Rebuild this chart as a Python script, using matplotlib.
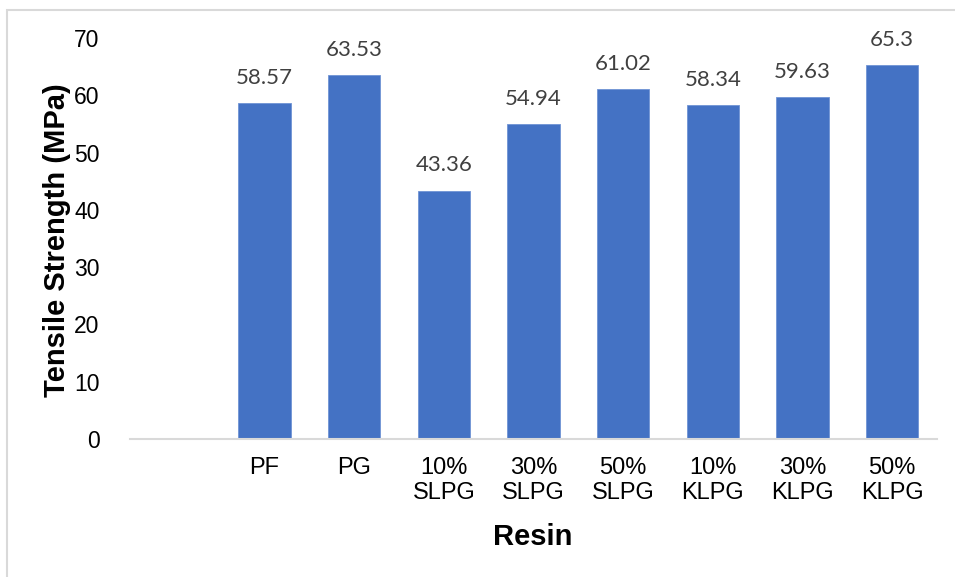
import numpy as np
import matplotlib.pyplot as plt
from matplotlib.patches import Rectangle

# resin types (first slot on the category axis is left blank)
resins = ["", "PF", "PG", "10%\nSLPG", "30%\nSLPG", "50%\nSLPG",
          "10%\nKLPG", "30%\nKLPG", "50%\nKLPG"]
strength = [np.nan, 58.57, 63.53, 43.36, 54.94, 61.02, 58.34, 59.63, 65.3]
strength_labels = ["", "58.57", "63.53", "43.36", "54.94", "61.02",
                   "58.34", "59.63", "65.3"]
yticks = [0, 10, 20, 30, 40, 50, 60, 70]

fig = plt.figure(figsize=(9.55, 5.77), dpi=100)
ax = fig.add_axes([130 / 955, 1 - 439 / 577, 807 / 955, 401 / 577])

x = np.arange(len(resins))
ax.bar(x, strength, width=0.58, color="#4472C4", edgecolor="#6f93d4",
       linewidth=0.6, zorder=2)

for xi, v, lab in zip(x, strength, strength_labels):
    if not lab:
        continue
    ax.annotate(lab, (xi, v), xytext=(0, 11), textcoords="offset points",
                ha="center", va="bottom", fontsize=16, color="#404040",
                family="Lato")

ax.set_xlim(-0.5, len(resins) - 0.5)
ax.set_ylim(0, 70)
ax.set_yticks(yticks)
ax.set_xticks(x)
ax.set_xticklabels(resins, fontsize=17, family="Liberation Sans",
                   linespacing=1.2)
ax.set_yticklabels([str(t) for t in yticks], fontsize=16.5,
                   family="Liberation Sans")
ax.tick_params(axis="both", length=0)
ax.tick_params(axis="y", pad=22)
ax.tick_params(axis="x", pad=13)

for side in ["top", "right", "left"]:
    ax.spines[side].set_visible(False)
ax.spines["bottom"].set_color("#d9d9d9")
ax.spines["bottom"].set_linewidth(1.5)

fig.text(57 / 955, 1 - 240 / 577, "Tensile Strength (MPa)", rotation=90,
         ha="center", va="center", fontsize=21, fontweight="bold",
         family="Liberation Sans")
fig.text(533 / 955, 1 - 537 / 577, "Resin", ha="center", va="center",
         fontsize=21, fontweight="bold", family="Liberation Sans")

# chart border running off the right and bottom edges
fig.patches.append(Rectangle((7 / 955, -0.1), 1.2, 1 - 10 / 577 + 0.1,
                             transform=fig.transFigure, fill=False,
                             edgecolor="#d9d9d9", linewidth=1.5))

fig.savefig("out.png", dpi=100)
